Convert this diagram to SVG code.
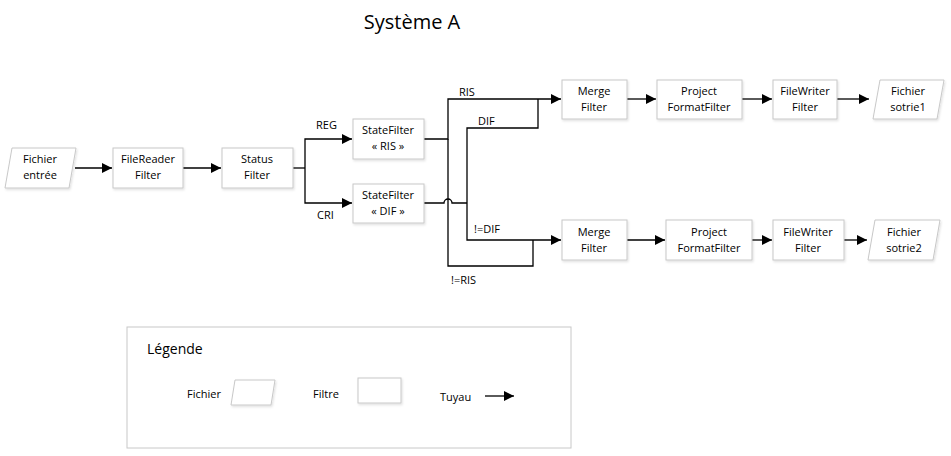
<svg xmlns="http://www.w3.org/2000/svg" width="951" height="456" viewBox="0 0 951 456">
<style>
text{font-family:"Open Sans","Liberation Sans",sans-serif;font-size:11px;fill:#000;text-anchor:middle}
.lbl{text-anchor:start}
.box{fill:#fff;stroke:#c8c8c8;stroke-width:1;filter:url(#sh)}
.ln{fill:none;stroke:#000;stroke-width:1.3}
.ar{marker-end:url(#ah)}
</style>
<defs>
<marker id="ah" viewBox="0 0 10 10" refX="10" refY="5" markerWidth="10" markerHeight="10" markerUnits="userSpaceOnUse" orient="auto">
<path d="M0,0 L10,5 L0,10 z" fill="#000"/>
</marker>
<filter id="sh" x="-10%" y="-10%" width="130%" height="130%">
<feDropShadow dx="1" dy="1.5" stdDeviation="1" flood-color="#000" flood-opacity="0.12"/>
</filter>
</defs>
<rect width="951" height="456" fill="#fff"/>
<text x="412" y="29" style="font-size:20px">Système A</text>

<g id="connectors">
<line class="ln ar" x1="75" y1="168" x2="112" y2="168"/>
<line class="ln ar" x1="183" y1="168" x2="221" y2="168"/>
<polyline class="ln" points="293,168 305,168"/>
<polyline class="ln ar" points="305,168 305,139 352,139"/>
<polyline class="ln ar" points="305,168 305,203 352,203"/>
<polyline class="ln ar" points="424,139 448,139 448,99 561,99"/>
<polyline class="ln" points="448,139 448,266 533,266 533,240"/>
<path class="ln" d="M424,203 L444,203 A4,4 0 0 1 452,203 L467,203"/>
<polyline class="ln" points="467,203 467,128 538,128 538,99"/>
<polyline class="ln ar" points="467,203 467,240 561,240"/>
<line class="ln ar" x1="627" y1="99" x2="656" y2="99"/>
<line class="ln ar" x1="742" y1="99" x2="772" y2="99"/>
<line class="ln ar" x1="837" y1="99" x2="869" y2="99"/>
<line class="ln ar" x1="627" y1="240" x2="665" y2="240"/>
<line class="ln ar" x1="752" y1="240" x2="772" y2="240"/>
<line class="ln ar" x1="844" y1="240" x2="867" y2="240"/>
<text class="lbl" x="316" y="129">REG</text>
<text class="lbl" x="317" y="219">CRI</text>
<text class="lbl" x="459" y="96">RIS</text>
<text class="lbl" x="478" y="125">DIF</text>
<text class="lbl" x="474" y="233">!=DIF</text>
<text class="lbl" x="451" y="284">!=RIS</text>
</g>

<g id="n-fichier-entree">
<polygon class="box" points="12,148 76,148 69,188 5,188"/>
<text x="40" y="163">Fichier</text><text x="40" y="179">entrée</text>
</g>
<g id="n-filereader">
<rect class="box" x="113" y="148" width="70" height="40"/>
<text x="148" y="163">FileReader</text><text x="148" y="179">Filter</text>
</g>
<g id="n-status">
<rect class="box" x="222" y="148" width="71" height="40"/>
<text x="257" y="163">Status</text><text x="257" y="179">Filter</text>
</g>
<g id="n-state-ris">
<rect class="box" x="353" y="119" width="71" height="40"/>
<text x="388" y="134">StateFilter</text><text x="388" y="150">« RIS »</text>
</g>
<g id="n-state-dif">
<rect class="box" x="353" y="184" width="71" height="39"/>
<text x="388" y="199">StateFilter</text><text x="388" y="215">« DIF »</text>
</g>
<g id="n-merge1">
<rect class="box" x="562" y="80" width="65" height="39"/>
<text x="594" y="95">Merge</text><text x="594" y="111">Filter</text>
</g>
<g id="n-project1">
<rect class="box" x="657" y="80" width="85" height="39"/>
<text x="699" y="95">Project</text><text x="699" y="111">FormatFilter</text>
</g>
<g id="n-filewriter1">
<rect class="box" x="773" y="80" width="64" height="39"/>
<text x="805" y="95">FileWriter</text><text x="805" y="111">Filter</text>
</g>
<g id="n-sortie1">
<polygon class="box" points="880,80 944,80 937,119 873,119"/>
<text x="908" y="95">Fichier</text><text x="908" y="111">sotrie1</text>
</g>
<g id="n-merge2">
<rect class="box" x="562" y="220" width="65" height="40"/>
<text x="594" y="236">Merge</text><text x="594" y="252">Filter</text>
</g>
<g id="n-project2">
<rect class="box" x="666" y="220" width="86" height="40"/>
<text x="709" y="236">Project</text><text x="709" y="252">FormatFilter</text>
</g>
<g id="n-filewriter2">
<rect class="box" x="773" y="220" width="71" height="40"/>
<text x="808" y="236">FileWriter</text><text x="808" y="252">Filter</text>
</g>
<g id="n-sortie2">
<polygon class="box" points="875,220 940,220 933,260 868,260"/>
<text x="904" y="236">Fichier</text><text x="904" y="252">sotrie2</text>
</g>

<g id="legend">
<rect x="127" y="327" width="444" height="121" fill="#fff" stroke="#c8c8c8" stroke-width="1"/>
<text class="lbl" x="147" y="354" style="font-size:14px">Légende</text>
<text class="lbl" x="187" y="398">Fichier</text>
<polygon class="box" points="235,380 275,380 271,405 231,405"/>
<text class="lbl" x="313" y="398">Filtre</text>
<rect class="box" x="358" y="378" width="43" height="25"/>
<text class="lbl" x="440" y="401">Tuyau</text>
<line class="ln ar" x1="485" y1="396" x2="514" y2="396"/>
</g>
</svg>
